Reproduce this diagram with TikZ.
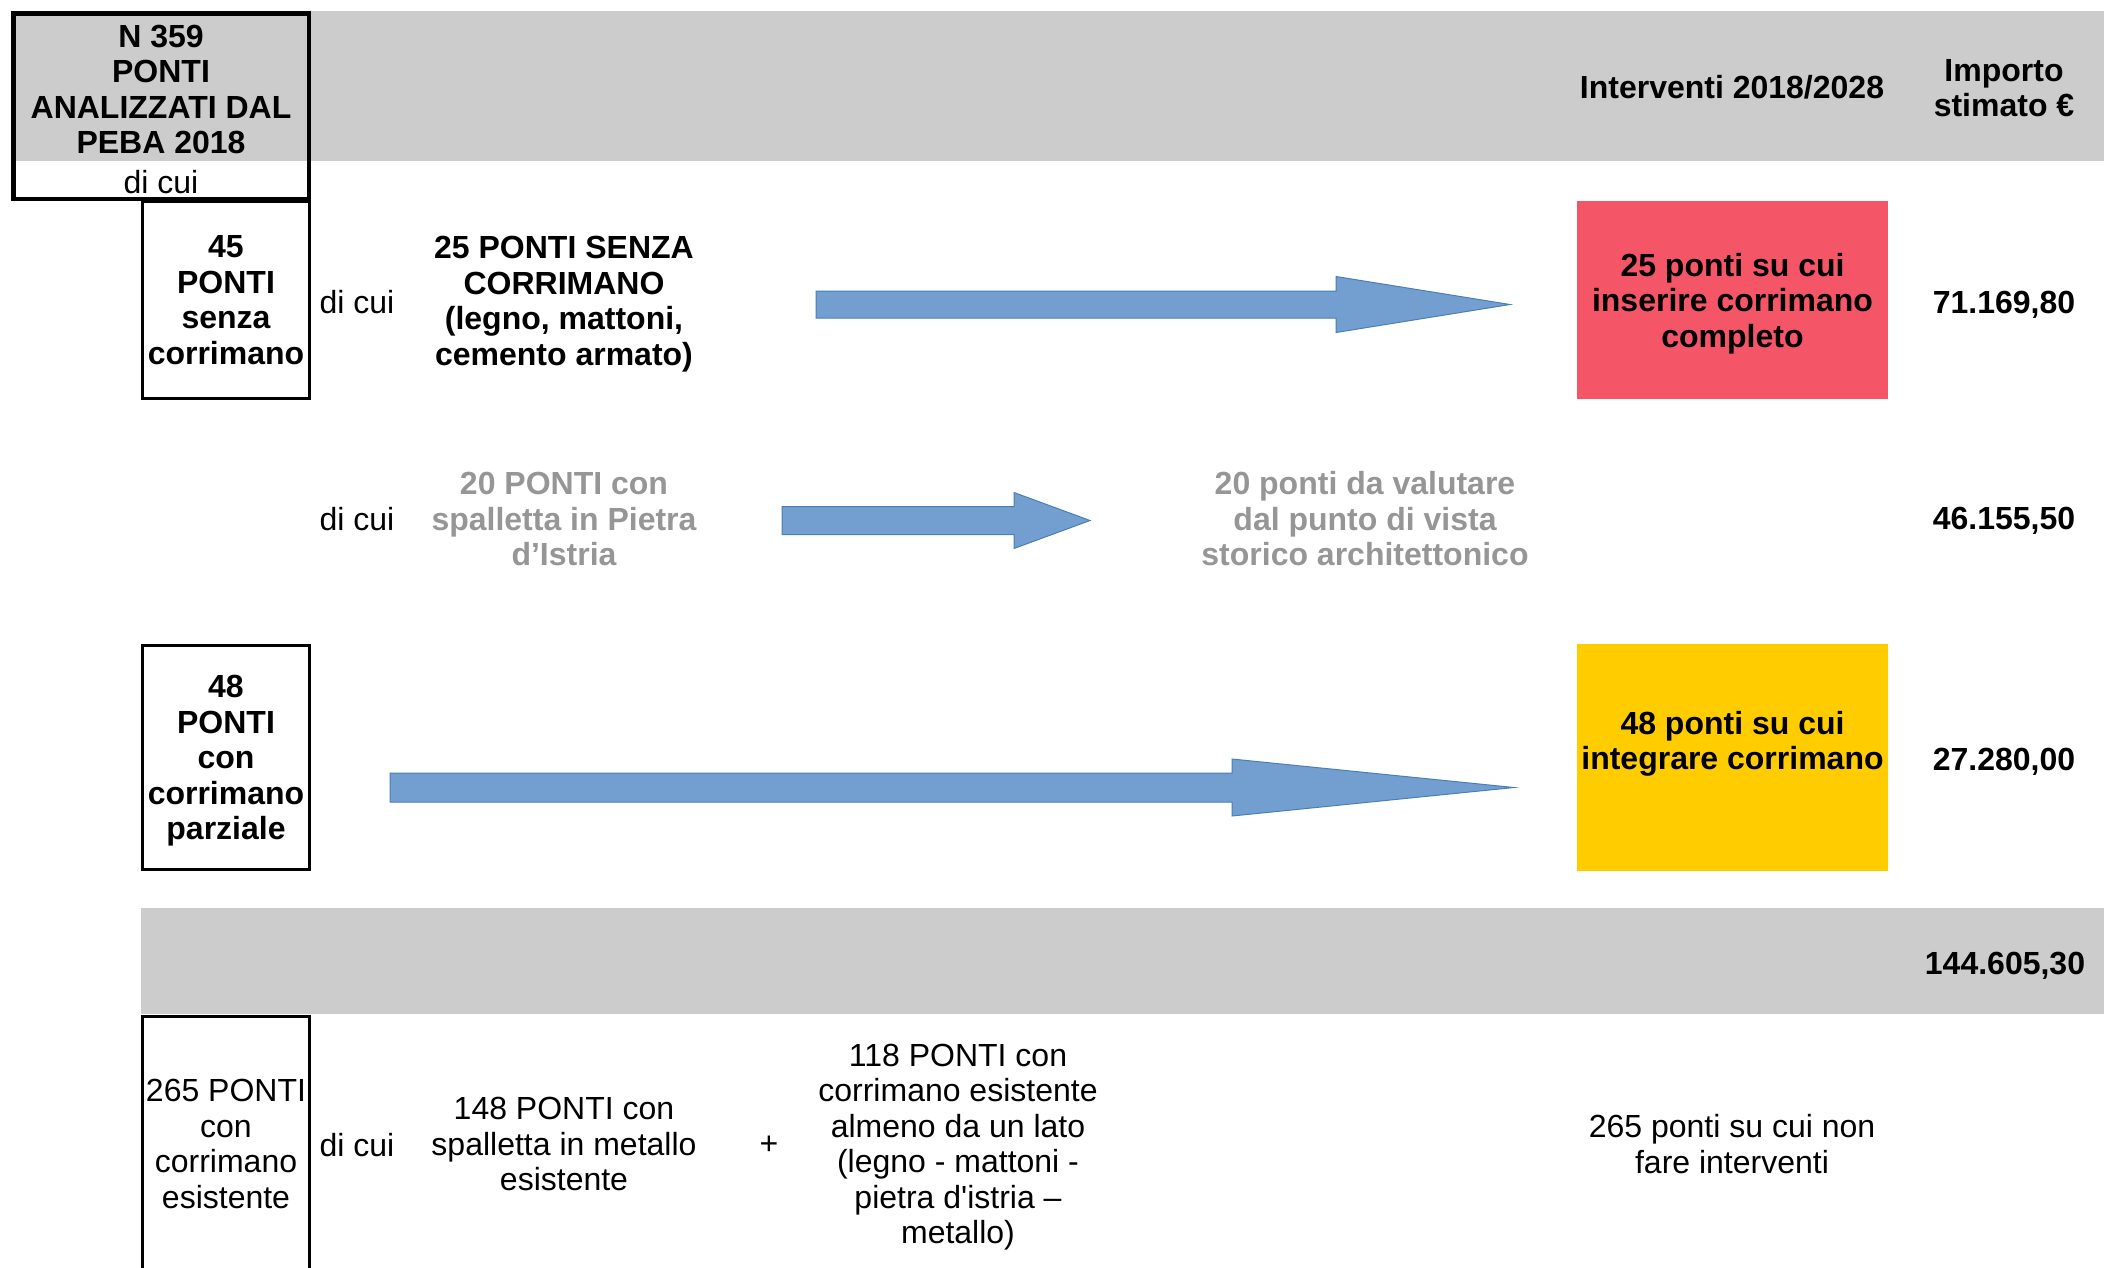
\documentclass[tikz,border=0pt]{standalone}
\usepackage{fontspec}
\newfontfamily\arialf{Liberation Sans}
\usetikzlibrary{calc}
\definecolor{bandgray}{HTML}{CCCCCC}
\definecolor{greytext}{HTML}{969696}
\definecolor{arrowblue}{HTML}{729FCF}
\definecolor{arrowedge}{HTML}{4A7EBB}
\definecolor{redbox}{HTML}{F45668}
\definecolor{yellowbox}{HTML}{FFCC00}
\newcommand\bigarrow[5]{% tail, tip, head length, half shaft, half head
  \draw[blockarrow] ($(#1)+(0,-#4)$) -- ($(#2)+(-#3,-#4)$) -- ($(#2)+(-#3,-#5)$) -- (#2)
    -- ($(#2)+(-#3,#5)$) -- ($(#2)+(-#3,#4)$) -- ($(#1)+(0,#4)$) -- cycle;}
\tikzset{
  txt/.style={font=\arialf\fontsize{32}{35.5}\selectfont, align=center, inner sep=0pt},
  btxt/.style={font=\arialf\bfseries\fontsize{32}{35.5}\selectfont, align=center, inner sep=0pt},
  gtxt/.style={btxt, text=greytext},
  boxframe/.style={draw=black, line width=3pt},
  blockarrow/.style={fill=arrowblue, draw=arrowedge, line width=1pt},
}
\begin{document}
\begin{tikzpicture}[x=1pt,y=-1pt]
\useasboundingbox (0,0) rectangle (2104,1267);
% header band
\fill[bandgray] (11,11) rectangle (2104,161);
\draw[line width=4.5pt] (13.25,13.25) rectangle (308.75,199);
\node[btxt] (title) at (161,89.5) {N 359\\PONTI\\ANALIZZATI DAL\\PEBA 2018};
\node[txt] (dicui0) at (161,182) {di cui};
\node[btxt] (hint) at (1732,87) {Interventi 2018/2028};
\node[btxt] (himp) at (2004,88) {Importo\\stimato €};

% row 1
\node[btxt, boxframe, text depth=0pt, minimum width=167pt, minimum height=197pt] (b45) at (226,300) {45\\PONTI\\senza\\corrimano};
\node[txt] (dc1) at (357,302) {di cui};
\node[btxt] (t25) at (564,304) {25 PONTI SENZA\\CORRIMANO\\(legno, mattoni,\\cemento armato)};
\coordinate (a1tail) at (816,304.5);
\coordinate (a1tip) at (1510,304.5);
\bigarrow{a1tail}{a1tip}{174}{13.5}{28}
\node[btxt, fill=redbox, text depth=0pt, minimum width=311pt, minimum height=198pt] (red) at (1732.5,300) {25 ponti su cui\\inserire corrimano\\completo};
\node[btxt] (v1) at (2004,305) {71.169,80};

% row 2
\node[txt] (dc2) at (357,519) {di cui};
\node[gtxt] (t20) at (564,519) {20 PONTI con\\spalletta in Pietra\\d’Istria};
\coordinate (a2tail) at (782,520.5);
\coordinate (a2tip) at (1090,520.5);
\bigarrow{a2tail}{a2tip}{76}{14}{28}
\node[gtxt] (t20b) at (1365,519) {20 ponti da valutare\\dal punto di vista\\storico architettonico};
\node[btxt] (v2) at (2004,521) {46.155,50};

% row 3
\node[btxt, boxframe, text depth=0pt, minimum width=167pt, minimum height=224pt] (b48) at (226,757.5) {48\\PONTI\\con\\corrimano\\parziale};
\coordinate (a3tail) at (390,787.5);
\coordinate (a3tip) at (1514,787.5);
\bigarrow{a3tail}{a3tip}{282}{14.5}{28.5}
\fill[yellowbox] (1577,644) rectangle (1888,871);
\node[btxt] (yel) at (1732.5,744) {48 ponti su cui\\integrare corrimano};
\node[btxt] (v3) at (2004,762) {27.280,00};

% total band
\fill[bandgray] (141,908) rectangle (2104,1014);
\node[btxt] (tot) at (2005,966) {144.605,30};

% row 4
\draw[boxframe] (142.5,1290) -- (142.5,1016.5) -- (309.5,1016.5) -- (309.5,1290);
\node[txt] (b265) at (226,1144) {265 PONTI\\con\\corrimano\\esistente};
\node[txt] (dc4) at (357,1145) {di cui};
\node[txt] (t148) at (564,1144) {148 PONTI con\\spalletta in metallo\\esistente};
\node[txt] (plus) at (769,1145) {+};
\node[txt] (t118) at (958,1147) {118 PONTI con\\corrimano esistente\\almeno da un lato\\(legno - mattoni -\\pietra d'istria –\\metallo)};
\node[txt] (t265) at (1732,1144) {265 ponti su cui non\\fare interventi};
\end{tikzpicture}
\end{document}
